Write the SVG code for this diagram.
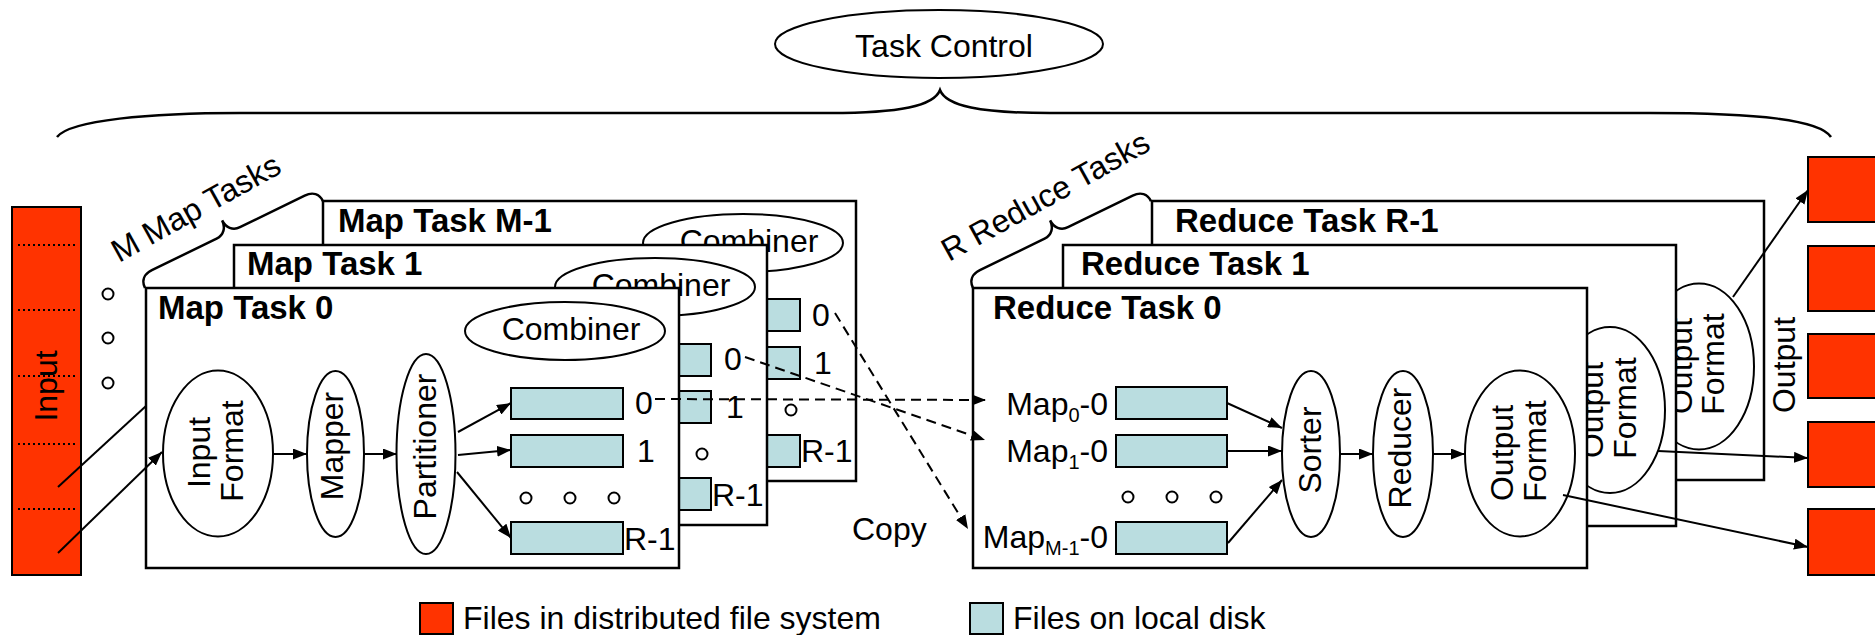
<svg xmlns="http://www.w3.org/2000/svg" width="1875" height="635" viewBox="0 0 1875 635">
  <style>
    text { font-family: "Liberation Sans", Arial, Helvetica, sans-serif; font-size: 32px; fill: #000; }
    .title { font-weight: bold; font-size: 33px; }
    .mid { text-anchor: middle; }
    .end { text-anchor: end; }
    .sub { font-size: 20px; }
    .box { fill: #fff; stroke: #000; stroke-width: 2.5; }
    .ell { fill: #fff; stroke: #000; stroke-width: 2; }
    .file { fill: #badde0; stroke: #000; stroke-width: 2; }
    .dfs { fill: #ff3300; stroke: #000; stroke-width: 2; }
    .sep { fill: none; stroke: #000; stroke-width: 2; stroke-dasharray: 2 3; }
    .dot { fill: none; stroke: #000; stroke-width: 2; }
    .line { fill: none; stroke: #000; stroke-width: 2; }
    .flow { fill: none; stroke: #000; stroke-width: 2; marker-end: url(#arrow); }
    .copy { fill: none; stroke: #000; stroke-width: 2; stroke-dasharray: 10 6; marker-end: url(#arrow); }
    .brace { fill: none; stroke: #000; stroke-width: 2.5; }
  </style>
  <defs>
    <marker id="arrow" viewBox="0 0 14 11" refX="14" refY="5.5" markerWidth="14" markerHeight="11" markerUnits="userSpaceOnUse" orient="auto">
      <path d="M0,0 L14,5.5 L0,11 z" fill="#000"/>
    </marker>
    <!-- curly brace spanning 198px along its local x axis, tip pointing to -y -->
    <path id="stackBrace" class="brace" d="M0,0 C0,-8 5,-13 14,-13 L86,-13 C94,-13 99,-19 99,-27 C99,-19 104,-13 112,-13 L184,-13 C193,-13 198,-8 198,0"/>
  </defs>

  <!-- overall task control -->
  <g id="task-control">
    <ellipse class="ell" cx="939" cy="44" rx="164" ry="34"/>
    <text class="mid" x="944" y="57">Task Control</text>
    <path class="brace" d="M57,137 C70,120 150,113 240,113 L830,113 C900,113 934,106 940,90 C946,106 980,113 1050,113 L1650,113 C1760,113 1820,120 1831,137"/>
  </g>

  <!-- input split into chunks -->
  <g id="input">
    <rect class="dfs" x="12" y="207" width="69" height="368"/>
    <line class="sep" x1="18" y1="245" x2="76" y2="245"/>
    <line class="sep" x1="18" y1="310" x2="76" y2="310"/>
    <line class="sep" x1="18" y1="376" x2="76" y2="376"/>
    <line class="sep" x1="18" y1="444" x2="76" y2="444"/>
    <line class="sep" x1="18" y1="509" x2="76" y2="509"/>
    <text class="mid" font-size="30" transform="translate(57,386) rotate(-90)">Input</text>
  </g>

  <!-- stack of map tasks -->
  <g id="map-tasks-label">
    <circle class="dot" cx="108" cy="294" r="5.5"/>
    <circle class="dot" cx="108" cy="338" r="5.5"/>
    <circle class="dot" cx="108" cy="383" r="5.5"/>
    <use href="#stackBrace" transform="translate(145,288) rotate(-26)"/>
    <text transform="translate(119,263) rotate(-29)">M Map Tasks</text>
  </g>

  <g id="map-task-m1">
    <rect class="box" x="323" y="201" width="533" height="280"/>
    <text class="title" x="338" y="232">Map Task M-1</text>
    <ellipse class="ell" cx="743" cy="243" rx="100" ry="29"/>
    <text class="mid" x="749" y="252">Combiner</text>
    <rect class="file" x="688" y="299" width="112" height="32"/>
    <rect class="file" x="688" y="347" width="112" height="32"/>
    <rect class="file" x="688" y="435" width="112" height="32"/>
    <text x="812" y="326">0</text>
    <text x="814" y="374">1</text>
    <circle class="dot" cx="791" cy="410" r="5.5"/>
    <text x="801" y="462">R-1</text>
  </g>

  <g id="map-task-1">
    <rect class="box" x="234" y="245" width="533" height="280"/>
    <text class="title" x="247" y="275">Map Task 1</text>
    <ellipse class="ell" cx="655" cy="287" rx="100" ry="29"/>
    <text class="mid" x="661" y="296">Combiner</text>
    <rect class="file" x="599" y="344" width="112" height="32"/>
    <rect class="file" x="599" y="391" width="112" height="32"/>
    <rect class="file" x="599" y="478" width="112" height="32"/>
    <text x="724" y="370">0</text>
    <text x="726" y="418">1</text>
    <circle class="dot" cx="702" cy="454" r="5.5"/>
    <text x="712" y="506">R-1</text>
  </g>

  <g id="map-task-0">
    <rect class="box" x="146" y="288" width="533" height="280"/>
    <text class="title" x="158" y="319">Map Task 0</text>
    <ellipse class="ell" cx="565" cy="331" rx="100" ry="29"/>
    <text class="mid" x="571" y="340">Combiner</text>
    <ellipse class="ell" cx="218" cy="453.5" rx="55" ry="83"/>
    <text class="mid" transform="translate(210,452.5) rotate(-90)">Input</text>
    <text class="mid" transform="translate(243,451) rotate(-90)">Format</text>
    <ellipse class="ell" cx="335.5" cy="454" rx="28.5" ry="83"/>
    <text class="mid" transform="translate(343,446) rotate(-90)">Mapper</text>
    <ellipse class="ell" cx="426" cy="454" rx="29.5" ry="100"/>
    <text class="mid" transform="translate(436,446.5) rotate(-90)">Partitioner</text>
    <rect class="file" x="511" y="388" width="112" height="31"/>
    <rect class="file" x="511" y="435" width="112" height="32"/>
    <rect class="file" x="511" y="522" width="112" height="32"/>
    <text x="635" y="414">0</text>
    <text x="637" y="462">1</text>
    <circle class="dot" cx="526" cy="498" r="5.5"/>
    <circle class="dot" cx="570" cy="498" r="5.5"/>
    <circle class="dot" cx="614" cy="498" r="5.5"/>
    <text x="624" y="550">R-1</text>
  </g>

  <!-- stack of reduce tasks -->
  <g id="reduce-tasks-label">
    <use href="#stackBrace" transform="translate(973,288) rotate(-26)"/>
    <text transform="translate(949,262) rotate(-29)">R Reduce Tasks</text>
  </g>

  <g id="reduce-task-r1">
    <rect class="box" x="1152" y="201" width="612" height="279"/>
    <text class="title" x="1175" y="232">Reduce Task R-1</text>
    <ellipse class="ell" cx="1699" cy="366.5" rx="55" ry="83"/>
    <text class="mid" transform="translate(1692,366) rotate(-90)">Output</text>
    <text class="mid" transform="translate(1724,364) rotate(-90)">Format</text>
  </g>

  <g id="reduce-task-1">
    <rect class="box" x="1063" y="245" width="613" height="281"/>
    <text class="title" x="1081" y="275">Reduce Task 1</text>
    <ellipse class="ell" cx="1610" cy="410" rx="55" ry="83"/>
    <text class="mid" transform="translate(1603,410) rotate(-90)">Output</text>
    <text class="mid" transform="translate(1636,408) rotate(-90)">Format</text>
  </g>

  <g id="reduce-task-0">
    <rect class="box" x="973" y="288" width="614" height="280"/>
    <text class="title" x="993" y="319">Reduce Task 0</text>
    <text class="end" x="1108" y="415">Map<tspan class="sub" dy="7">0</tspan><tspan dy="-7">-0</tspan></text>
    <text class="end" x="1108" y="462">Map<tspan class="sub" dy="7">1</tspan><tspan dy="-7">-0</tspan></text>
    <text class="end" x="1108" y="548">Map<tspan class="sub" dy="7">M-1</tspan><tspan dy="-7">-0</tspan></text>
    <rect class="file" x="1116" y="387" width="111" height="32"/>
    <rect class="file" x="1116" y="435" width="111" height="32"/>
    <rect class="file" x="1116" y="522" width="111" height="32"/>
    <circle class="dot" cx="1128" cy="497" r="5.5"/>
    <circle class="dot" cx="1172" cy="497" r="5.5"/>
    <circle class="dot" cx="1216" cy="497" r="5.5"/>
    <ellipse class="ell" cx="1311" cy="454" rx="29" ry="83"/>
    <text class="mid" transform="translate(1321,450) rotate(-90)">Sorter</text>
    <ellipse class="ell" cx="1403" cy="454" rx="30" ry="83"/>
    <text class="mid" transform="translate(1411,448) rotate(-90)">Reducer</text>
    <ellipse class="ell" cx="1520" cy="453.5" rx="55" ry="83"/>
    <text class="mid" transform="translate(1513,453) rotate(-90)">Output</text>
    <text class="mid" transform="translate(1546,451) rotate(-90)">Format</text>
  </g>

  <!-- output files -->
  <g id="output">
    <rect class="dfs" x="1808" y="157" width="72" height="65"/>
    <rect class="dfs" x="1808" y="246" width="72" height="65"/>
    <rect class="dfs" x="1808" y="334" width="72" height="64"/>
    <rect class="dfs" x="1808" y="422" width="72" height="65"/>
    <rect class="dfs" x="1808" y="509" width="72" height="66"/>
    <text class="mid" transform="translate(1795,365) rotate(-90)">Output</text>
  </g>

  <g id="copy-label">
    <text x="852" y="540">Copy</text>
  </g>

  <!-- legend -->
  <g id="legend">
    <rect class="dfs" x="420" y="603" width="33" height="31"/>
    <text x="463" y="629">Files in distributed file system</text>
    <rect class="file" x="970" y="603" width="33" height="31"/>
    <text x="1013" y="629">Files on local disk</text>
  </g>

  <g id="connectors">
    <!-- input splits to map tasks -->
    <path class="line" d="M58,487 L146,406"/>
    <path class="flow" d="M58,553 L162,452"/>
    <!-- map pipeline -->
    <path class="flow" d="M273,454 L307,454"/>
    <path class="flow" d="M364,454 L397,454"/>
    <path class="flow" d="M458,432 L511,403"/>
    <path class="flow" d="M458,455 L511,450"/>
    <path class="flow" d="M457,472 L511,538"/>
    <!-- shuffle copy of partition 0 -->
    <path class="copy" d="M655,399 L986,400"/>
    <path class="copy" d="M745,357 L985,440"/>
    <path class="copy" d="M835,313 L968,529"/>
    <!-- reduce pipeline -->
    <path class="flow" d="M1227,403 L1282,428"/>
    <path class="flow" d="M1227,451 L1282,451"/>
    <path class="flow" d="M1228,543 L1282,480"/>
    <path class="flow" d="M1340,454 L1373,454"/>
    <path class="flow" d="M1433,454 L1465,454"/>
    <!-- writes to the distributed file system -->
    <path class="flow" d="M1733,297 L1808,190"/>
    <path class="flow" d="M1658,451 L1808,458"/>
    <path class="flow" d="M1563,495 L1808,547"/>
  </g>
</svg>
